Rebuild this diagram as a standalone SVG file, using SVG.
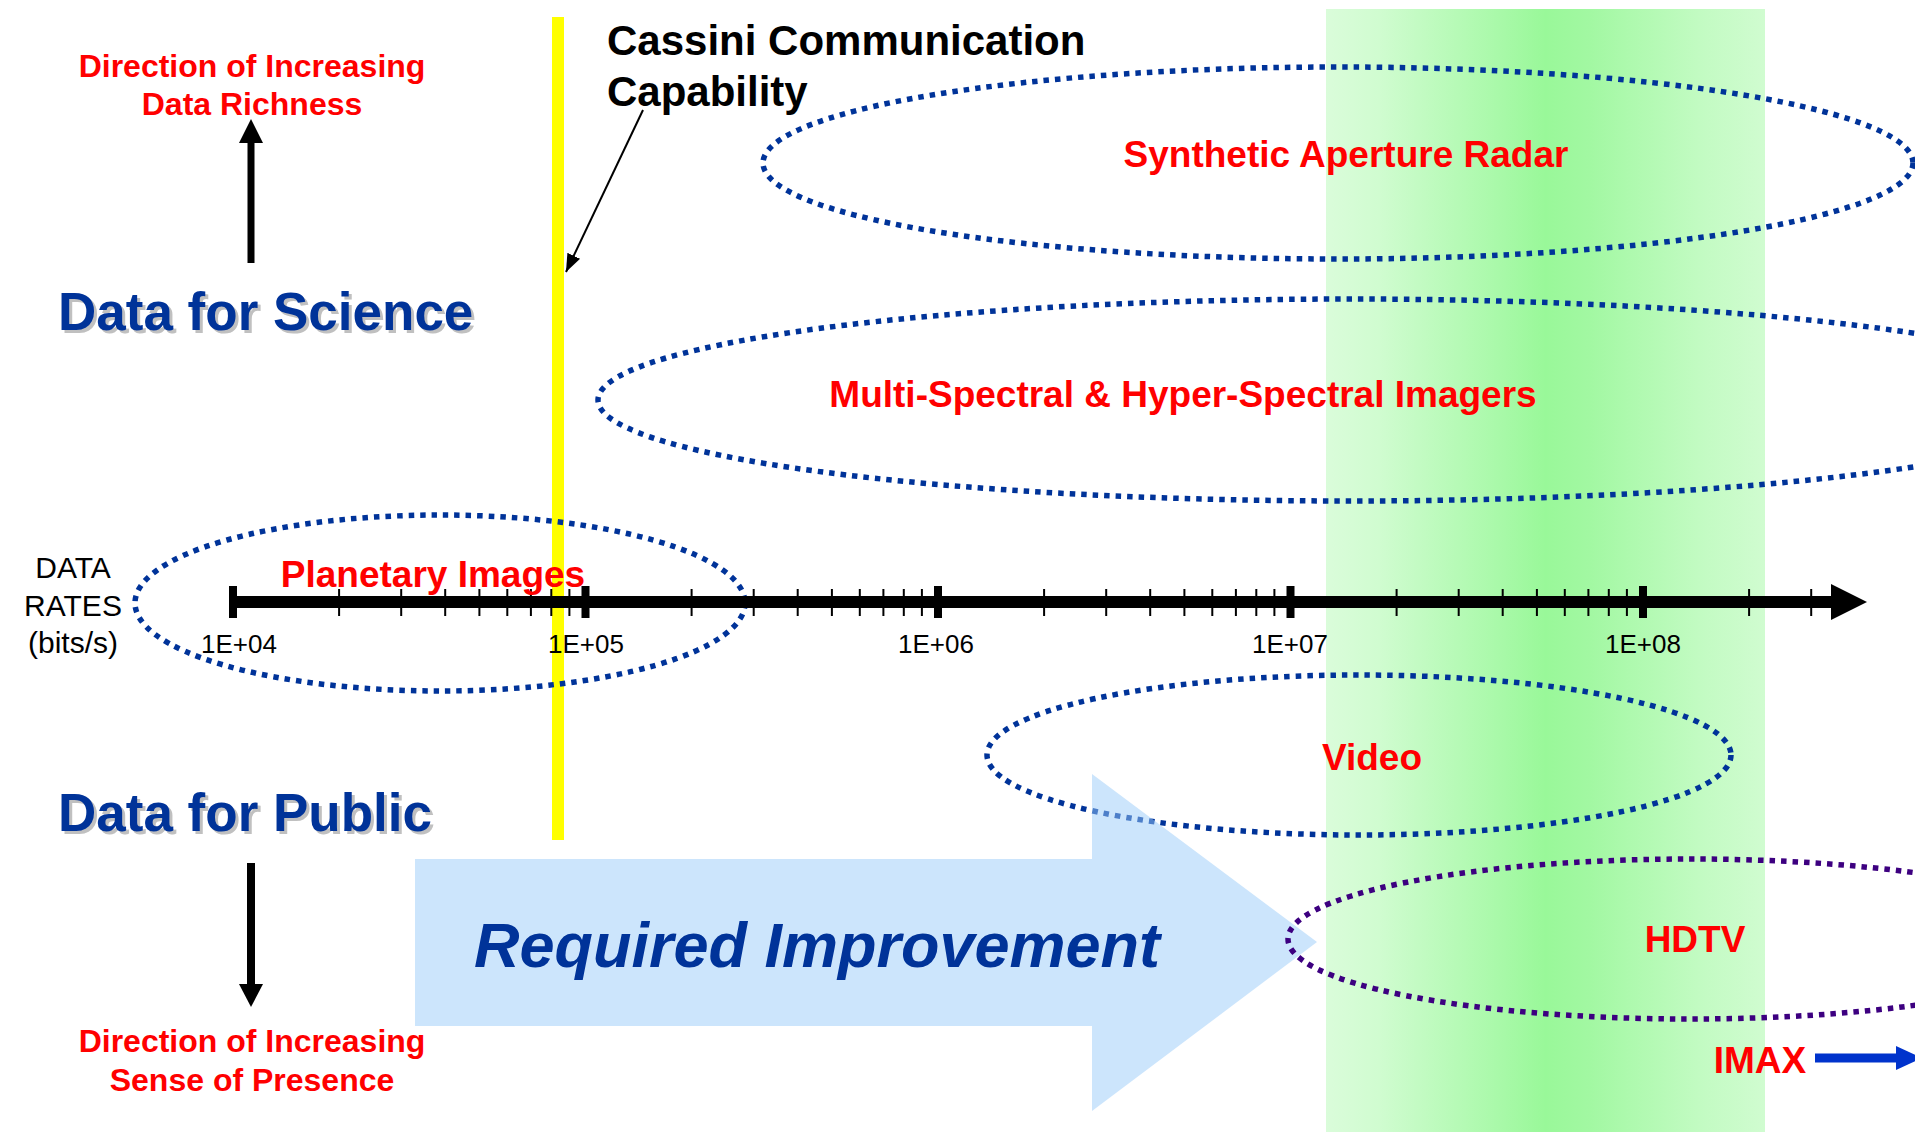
<svg xmlns="http://www.w3.org/2000/svg" width="1915" height="1132" viewBox="0 0 1915 1132">
<defs>
<linearGradient id="bandGrad" x1="0" y1="0" x2="1" y2="0">
<stop offset="0" stop-color="#dafcda"/>
<stop offset="0.12" stop-color="#d0fcd0"/>
<stop offset="0.4" stop-color="#a8f9a8"/>
<stop offset="0.5" stop-color="#99f899"/>
<stop offset="0.6" stop-color="#a2f8a2"/>
<stop offset="0.85" stop-color="#c2fbc2"/>
<stop offset="1" stop-color="#d0fcd0"/>
</linearGradient>
<marker id="leadHead" markerUnits="userSpaceOnUse" markerWidth="20" markerHeight="16" refX="18" refY="8" orient="auto">
<polygon points="0,1 18,8 0,15" fill="#000"/>
</marker>
</defs>
<style>
text{font-family:"Liberation Sans",Arial,sans-serif}
.red{font-weight:bold;fill:#ff0000;text-anchor:middle}
.title{font-weight:bold;font-size:53px;fill:#003399}
.shadow{font-weight:bold;font-size:53px;fill:#c0c0c0}
.dot{fill:none;stroke:#003399;stroke-width:5.5;stroke-dasharray:5.5 6}
.dotp{fill:none;stroke:#3d0080;stroke-width:5.5;stroke-dasharray:5.5 6}
.minor{stroke:#000;stroke-width:2}
.major{fill:#000}
.axlbl{font-size:26px;fill:#000;text-anchor:middle}
.side{font-size:30px;fill:#000;text-anchor:middle}
.cas{font-weight:bold;font-size:42px;fill:#000}
</style>

<g id="band"><rect x="1326" y="9" width="439" height="1123" fill="url(#bandGrad)"/></g>
<g id="cassini-line"><rect x="552" y="17" width="12" height="823" fill="#ffff00"/></g>

<g id="sar"><ellipse class="dot" cx="1338" cy="163" rx="575" ry="96"/><text class="red" x="1346" y="167" font-size="37">Synthetic Aperture Radar</text></g>
<g id="imagers"><ellipse class="dot" cx="1350" cy="400" rx="752" ry="101"/><text class="red" x="1183" y="407" font-size="37">Multi-Spectral &amp; Hyper-Spectral Imagers</text></g>
<g id="planetary"><ellipse class="dot" cx="440" cy="603" rx="305" ry="88"/></g>
<g id="video"><ellipse class="dot" cx="1359" cy="755" rx="372" ry="80"/><text class="red" x="1372" y="770" font-size="37">Video</text></g>

<g id="improvement">
<polygon points="415,859 1092,859 1092,774 1317,942 1092,1111 1092,1026 415,1026" fill="#99cbf9" fill-opacity="0.5"/>
<text x="817" y="967" text-anchor="middle" font-size="63" font-weight="bold" font-style="italic" fill="#003399">Required Improvement</text>
</g>

<g id="hdtv"><ellipse class="dotp" cx="1690" cy="939" rx="402" ry="80"/><text class="red" x="1695" y="952" font-size="37">HDTV</text></g>

<g id="axis">
<rect x="233" y="596" width="1602" height="12" fill="#000"/>
<polygon points="1831,584 1867,602 1831,620" fill="#000"/>
<g class="major">
<rect x="229" y="586" width="8" height="32"/>
<rect x="581.5" y="586" width="8" height="32"/>
<rect x="934" y="586" width="8" height="32"/>
<rect x="1286.5" y="586" width="8" height="32"/>
<rect x="1639" y="586" width="8" height="32"/>
</g>
<path class="minor" d="M339.1 589V616M401.2 589V616M445.2 589V616M479.4 589V616M507.3 589V616M530.9 589V616M551.3 589V616M569.4 589V616
M691.6 589V616M753.7 589V616M797.7 589V616M831.9 589V616M859.8 589V616M883.4 589V616M903.8 589V616M921.9 589V616
M1044.1 589V616M1106.2 589V616M1150.2 589V616M1184.4 589V616M1212.3 589V616M1235.9 589V616M1256.3 589V616M1274.4 589V616
M1396.6 589V616M1458.7 589V616M1502.7 589V616M1536.9 589V616M1564.8 589V616M1588.4 589V616M1608.8 589V616M1626.9 589V616
M1749.1 589V616M1811.2 589V616"/>
<text class="axlbl" x="239" y="653">1E+04</text>
<text class="axlbl" x="586" y="653">1E+05</text>
<text class="axlbl" x="936" y="653">1E+06</text>
<text class="axlbl" x="1290" y="653">1E+07</text>
<text class="axlbl" x="1643" y="653">1E+08</text>
</g>

<g id="axis-title">
<text class="side" x="73" y="578">DATA</text>
<text class="side" x="73" y="616">RATES</text>
<text class="side" x="73" y="653">(bits/s)</text>
</g>

<g id="planetary-label"><text class="red" x="433" y="587" font-size="37">Planetary Images</text></g>

<g id="science">
<text class="shadow" x="61" y="333">Data for Science</text>
<text class="title" x="58" y="330">Data for Science</text>
</g>
<g id="public">
<text class="shadow" x="61" y="834">Data for Public</text>
<text class="title" x="58" y="831">Data for Public</text>
</g>

<g id="richness"><text class="red" x="252" y="77" font-size="32">Direction of Increasing</text><text class="red" x="252" y="115" font-size="32">Data Richness</text></g>
<g id="presence"><text class="red" x="252" y="1052" font-size="32">Direction of Increasing</text><text class="red" x="252" y="1091" font-size="32">Sense of Presence</text></g>

<g id="cassini-label"><text class="cas" x="607" y="55">Cassini Communication</text><text class="cas" x="607" y="106">Capability</text></g>

<g id="imax"><text class="red" x="1760" y="1073" font-size="37">IMAX</text></g>

<g id="connectors">
<line x1="643" y1="110" x2="566" y2="272" stroke="#000" stroke-width="2" marker-end="url(#leadHead)"/>
<rect x="247.5" y="140" width="7" height="123" fill="#000"/>
<polygon points="239,143 251,119 263,143" fill="#000"/>
<rect x="247" y="863" width="8" height="123" fill="#000"/>
<polygon points="239,984 251,1007 263,984" fill="#000"/>
<rect x="1815" y="1053.5" width="83" height="9" fill="#0033cc"/>
<polygon points="1896,1046 1922,1058 1896,1070" fill="#0033cc"/>
</g>
</svg>
